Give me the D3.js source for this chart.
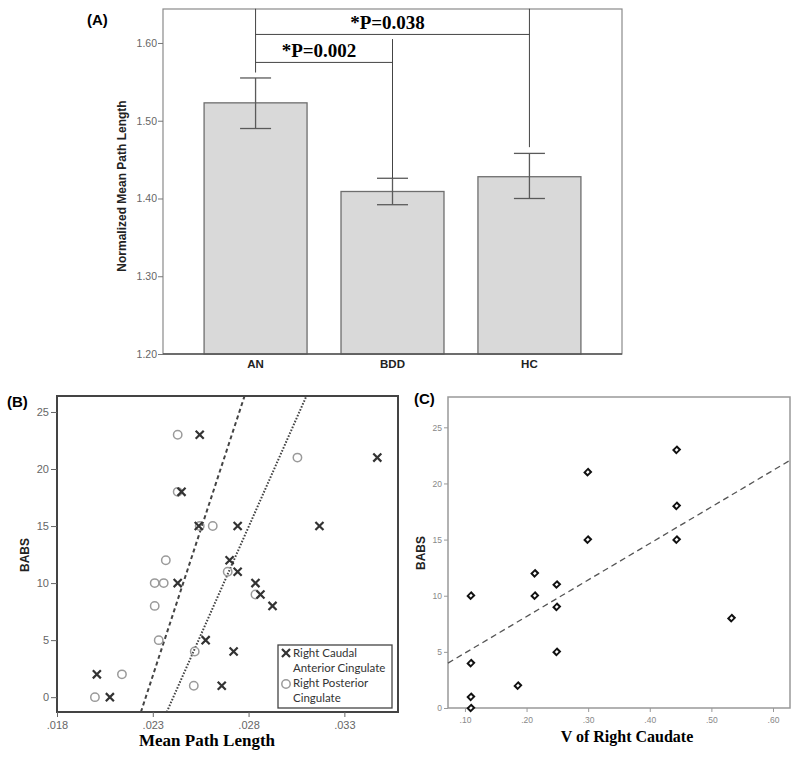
<!DOCTYPE html>
<html>
<head>
<meta charset="utf-8">
<script src="https://cdn.jsdelivr.net/npm/d3@7"></script>
<style>
  body { margin: 0; background: #fff; }
  svg { display: block; }
</style>
</head>
<body>
<script>
"use strict";

// Data

// (A) bar chart
let groups = ["AN", "BDD", "HC"];
let groupMeans = [1.523, 1.409, 1.428];
let groupLow = [1.490, 1.392, 1.400];
let groupHigh = [1.555, 1.426, 1.458];
let ticksA = [1.20, 1.30, 1.40, 1.50, 1.60];
let brackets = [
    {from: "AN", to: "BDD", y: 1.575, label: "*P=0.002"},
    {from: "AN", to: "HC", y: 1.611, label: "*P=0.038"}
];
// vertical legs of the brackets: [group, top, bottom]
let bracketLegs = [["AN", 1.644, 1.562], ["BDD", 1.605, 1.426], ["HC", 1.644, 1.466]];

// (B) scatter
let caudalX = [.02545, .03472, .0245, .0254, .02743, .0317, .02701, .02743, .0243, .02836, .02862, .02925, .02576, .02722, .02008, .0266, .02076];
let caudalY = [23, 21, 18, 15, 15, 15, 12, 11, 10, 10, 9, 8, 5, 4, 2, 1, 0];
let posteriorX = [.0243, .03055, .0243, .02545, .02613, .02368, .02691, .0231, .02357, .02836, .0231, .02331, .02519, .02139, .02514, .01998];
let posteriorY = [23, 21, 18, 15, 15, 12, 11, 10, 10, 9, 8, 5, 4, 2, 1, 0];
let fitCaudal = [[.02238, -1.3], [.02779, 26.4]];
let fitPosterior = [[.02373, -1.3], [.03102, 26.4]];
let ticksBx = [.018, .023, .028, .033];
let ticksBy = [0, 5, 10, 15, 20, 25];

// (C) scatter
let caudateV = [.4436, .2994, .4436, .2994, .4436, .2134, .249, .1097, .2134, .249, .5327, .249, .1097, .186, .1097, .1097];
let caudateBabs = [23, 21, 18, 15, 15, 12, 11, 10, 10, 9, 8, 5, 4, 2, 1, 0];
let fitC = [[.0725, 4.0], [.6276, 22.06]];
let ticksCx = [.10, .20, .30, .40, .50, .60];
let ticksCy = [0, 5, 10, 15, 20, 25];

let noLead = fmt => (d => d3.format(fmt)(d).replace(/^0/, ""));

let svg = d3.select("body").append("svg")
    .attr("width", 800)
    .attr("height", 759);

// Panel A

let xA = d3.scaleBand()
    .domain(groups)
    .range([163, 622])
    .paddingInner(0.248)
    .paddingOuter(0.3);

let yA = d3.scaleLinear()
    .domain([1.20, 1.6437])
    .range([354, 9]);

let gA = svg.append("g");

gA.append("rect")
    .attr("x", 163).attr("y", 9)
    .attr("width", 622 - 163).attr("height", 354 - 9)
    .attr("fill", "none")
    .attr("stroke", "#8a8a8a")
    .attr("stroke-width", 1.2);

gA.selectAll("rect.bar")
    .data(groups)
    .join("rect")
    .attr("class", "bar")
    .attr("x", d => xA(d))
    .attr("y", (d, i) => yA(groupMeans[i]))
    .attr("width", xA.bandwidth())
    .attr("height", (d, i) => yA(1.20) - yA(groupMeans[i]))
    .attr("fill", "#d9d9d9")
    .attr("stroke", "#6e6e6e")
    .attr("stroke-width", 1.3);

let cx = d => xA(d) + xA.bandwidth() / 2;
let capHalf = 15.5;

groups.forEach((d, i) => {
    let eb = gA.append("g")
        .attr("stroke", "#5a5a5a")
        .attr("stroke-width", 1.3);
    eb.append("line")
        .attr("x1", cx(d)).attr("x2", cx(d))
        .attr("y1", yA(groupLow[i])).attr("y2", yA(groupHigh[i]));
    [groupLow[i], groupHigh[i]].forEach(v => {
        eb.append("line")
            .attr("x1", cx(d) - capHalf).attr("x2", cx(d) + capHalf)
            .attr("y1", yA(v)).attr("y2", yA(v));
    });
});

gA.append("line")
    .attr("x1", 163).attr("x2", 622)
    .attr("y1", yA(1.20)).attr("y2", yA(1.20))
    .attr("stroke", "#555")
    .attr("stroke-width", 1.6);

bracketLegs.forEach(([grp, top, bottom]) => {
    gA.append("line")
        .attr("x1", cx(grp)).attr("x2", cx(grp))
        .attr("y1", yA(top)).attr("y2", yA(bottom))
        .attr("stroke", "#444")
        .attr("stroke-width", 1);
});

brackets.forEach(b => {
    gA.append("line")
        .attr("x1", cx(b.from)).attr("x2", cx(b.to))
        .attr("y1", yA(b.y)).attr("y2", yA(b.y))
        .attr("stroke", "#444")
        .attr("stroke-width", 1);
    gA.append("text")
        .attr("x", (cx(b.from) + cx(b.to)) / 2 - 5)
        .attr("y", yA(b.y) - 5)
        .attr("text-anchor", "middle")
        .style("font-family", "'Liberation Serif', 'Times New Roman', serif")
        .style("font-weight", "bold")
        .style("font-size", "19px")
        .text(b.label);
});

let axisA = gA.append("g")
    .attr("transform", "translate(163,0)")
    .call(d3.axisLeft(yA).tickValues(ticksA).tickFormat(d3.format(".2f")).tickSize(5).tickPadding(1));
axisA.select(".domain").remove();
axisA.selectAll(".tick line").attr("stroke", "#777");
axisA.selectAll(".tick text")
    .attr("fill", "#666")
    .style("font-family", "'Liberation Sans', Arial, sans-serif")
    .style("font-size", "10.5px");

gA.selectAll("text.cat")
    .data(groups)
    .join("text")
    .attr("class", "cat")
    .attr("x", d => cx(d))
    .attr("y", 368)
    .attr("text-anchor", "middle")
    .style("font-family", "'Liberation Sans', Arial, sans-serif")
    .style("font-weight", "bold")
    .style("font-size", "11.5px")
    .attr("fill", "#222")
    .text(d => d);

gA.append("text")
    .attr("transform", "translate(126,186) rotate(-90)")
    .attr("text-anchor", "middle")
    .style("font-family", "'Liberation Sans', Arial, sans-serif")
    .style("font-weight", "bold")
    .style("font-size", "12px")
    .attr("fill", "#222")
    .text("Normalized Mean Path Length");

gA.append("text")
    .attr("x", 87).attr("y", 25)
    .style("font-family", "'Liberation Sans', Arial, sans-serif")
    .style("font-weight", "bold")
    .style("font-size", "15px")
    .text("(A)");

// Panel B

let xB = d3.scaleLinear().domain([.018, .0358]).range([57, 398]);
let yB = d3.scaleLinear().domain([-1.3, 26.4]).range([712, 396]);

let gB = svg.append("g");

gB.append("clipPath").attr("id", "clipB")
    .append("rect")
    .attr("x", 57).attr("y", 396)
    .attr("width", 398 - 57).attr("height", 712 - 396);

let lineB = d3.line().x(d => xB(d[0])).y(d => yB(d[1]));

gB.append("path")
    .attr("d", lineB(fitCaudal))
    .attr("clip-path", "url(#clipB)")
    .attr("stroke", "#444")
    .attr("stroke-width", 2)
    .attr("stroke-dasharray", "4,3")
    .attr("fill", "none");

gB.append("path")
    .attr("d", lineB(fitPosterior))
    .attr("clip-path", "url(#clipB)")
    .attr("stroke", "#444")
    .attr("stroke-width", 2)
    .attr("stroke-dasharray", "1.6,1.6")
    .attr("fill", "none");

gB.selectAll("circle.post")
    .data(posteriorX)
    .join("circle")
    .attr("class", "post")
    .attr("cx", d => xB(d))
    .attr("cy", (d, i) => yB(posteriorY[i]))
    .attr("r", 4.2)
    .attr("fill", "none")
    .attr("stroke", "#9a9a9a")
    .attr("stroke-width", 1.5);

let cross = d3.symbol().type(d3.symbolX).size(44);

gB.selectAll("path.caud")
    .data(caudalX)
    .join("path")
    .attr("class", "caud")
    .attr("d", cross)
    .attr("transform", (d, i) => `translate(${xB(d)},${yB(caudalY[i])})`)
    .attr("fill", "none")
    .attr("stroke", "#333")
    .attr("stroke-width", 2.2);

gB.append("rect")
    .attr("x", 57).attr("y", 396)
    .attr("width", 398 - 57).attr("height", 712 - 396)
    .attr("fill", "none")
    .attr("stroke", "#444")
    .attr("stroke-width", 2);

let axBy = gB.append("g")
    .attr("transform", "translate(57,0)")
    .call(d3.axisLeft(yB).tickValues(ticksBy).tickSize(6).tickPadding(2));
let axBx = gB.append("g")
    .attr("transform", "translate(0,712)")
    .call(d3.axisBottom(xB).tickValues(ticksBx).tickFormat(noLead(".3f")).tickSize(5).tickPadding(4));
[axBy, axBx].forEach(ax => {
    ax.select(".domain").remove();
    ax.selectAll(".tick line").attr("stroke", "#666");
    ax.selectAll(".tick text")
        .attr("fill", "#666")
        .style("font-family", "'Liberation Sans', Arial, sans-serif")
        .style("font-size", "11px");
});

// legend
let legB = gB.append("g");
legB.append("rect")
    .attr("x", 278).attr("y", 645)
    .attr("width", 114).attr("height", 63)
    .attr("fill", "#fff")
    .attr("stroke", "#444")
    .attr("stroke-width", 1.3);
legB.append("path")
    .attr("d", cross)
    .attr("transform", "translate(286,653)")
    .attr("fill", "none")
    .attr("stroke", "#333")
    .attr("stroke-width", 2.2);
legB.append("circle")
    .attr("cx", 286).attr("cy", 684).attr("r", 4.2)
    .attr("fill", "none")
    .attr("stroke", "#9a9a9a")
    .attr("stroke-width", 1.5);
[["Right Caudal", 657], ["Anterior Cingulate", 672], ["Right Posterior", 687], ["Cingulate", 702]].forEach(([t, y]) => {
    legB.append("text")
        .attr("x", 293).attr("y", y)
        .style("font-family", "Lato, 'Open Sans', sans-serif")
        .style("font-size", "11.5px")
        .attr("fill", "#333")
        .text(t);
});

gB.append("text")
    .attr("x", 207).attr("y", 746)
    .attr("text-anchor", "middle")
    .style("font-family", "'Liberation Serif', 'Times New Roman', serif")
    .style("font-weight", "bold")
    .style("font-size", "17px")
    .text("Mean Path Length");

gB.append("text")
    .attr("transform", "translate(29,555) rotate(-90)")
    .attr("text-anchor", "middle")
    .style("font-family", "'Liberation Sans', Arial, sans-serif")
    .style("font-weight", "bold")
    .style("font-size", "12px")
    .attr("fill", "#222")
    .text("BABS");

gB.append("text")
    .attr("x", 7).attr("y", 407)
    .style("font-family", "'Liberation Sans', Arial, sans-serif")
    .style("font-weight", "bold")
    .style("font-size", "15px")
    .text("(B)");

// Panel C

let xC = d3.scaleLinear().domain([.0725, .6276]).range([448, 790]);
let yC = d3.scaleLinear().domain([0, 27.7]).range([708, 397]);

let gC = svg.append("g");

gC.append("rect")
    .attr("x", 448).attr("y", 397)
    .attr("width", 790 - 448).attr("height", 708 - 397)
    .attr("fill", "none")
    .attr("stroke", "#999")
    .attr("stroke-width", 1.5);

gC.append("path")
    .attr("d", d3.line().x(d => xC(d[0])).y(d => yC(d[1]))(fitC))
    .attr("stroke", "#555")
    .attr("stroke-width", 1.3)
    .attr("stroke-dasharray", "6,4")
    .attr("fill", "none");

gC.selectAll("path.pt")
    .data(caudateV)
    .join("path")
    .attr("class", "pt")
    .attr("d", d3.symbol().type(d3.symbolSquare).size(20))
    .attr("transform", (d, i) => `translate(${xC(d)},${yC(caudateBabs[i])}) rotate(45) scale(0.95,1.1)`)
    .attr("fill", "#fff")
    .attr("stroke", "#111")
    .attr("stroke-width", 1.9);

let axCy = gC.append("g")
    .attr("transform", "translate(448,0)")
    .call(d3.axisLeft(yC).tickValues(ticksCy).tickSize(4).tickPadding(2));
let axCx = gC.append("g")
    .attr("transform", "translate(0,708)")
    .call(d3.axisBottom(xC).tickValues(ticksCx).tickFormat(noLead(".2f")).tickSize(4).tickPadding(5));
[axCy, axCx].forEach(ax => {
    ax.select(".domain").remove();
    ax.selectAll(".tick line").attr("stroke", "#999");
    ax.selectAll(".tick text")
        .attr("fill", "#888")
        .style("font-family", "'Liberation Sans', Arial, sans-serif")
        .style("font-size", "8.5px");
});

gC.append("text")
    .attr("x", 627).attr("y", 742)
    .attr("text-anchor", "middle")
    .style("font-family", "'Liberation Serif', 'Times New Roman', serif")
    .style("font-weight", "bold")
    .style("font-size", "16px")
    .text("V of Right Caudate");

gC.append("text")
    .attr("transform", "translate(425,553) rotate(-90)")
    .attr("text-anchor", "middle")
    .style("font-family", "'Liberation Sans', Arial, sans-serif")
    .style("font-weight", "bold")
    .style("font-size", "12px")
    .attr("fill", "#222")
    .text("BABS");

gC.append("text")
    .attr("x", 414).attr("y", 404)
    .style("font-family", "'Liberation Sans', Arial, sans-serif")
    .style("font-weight", "bold")
    .style("font-size", "15px")
    .text("(C)");
</script>
</body>
</html>
